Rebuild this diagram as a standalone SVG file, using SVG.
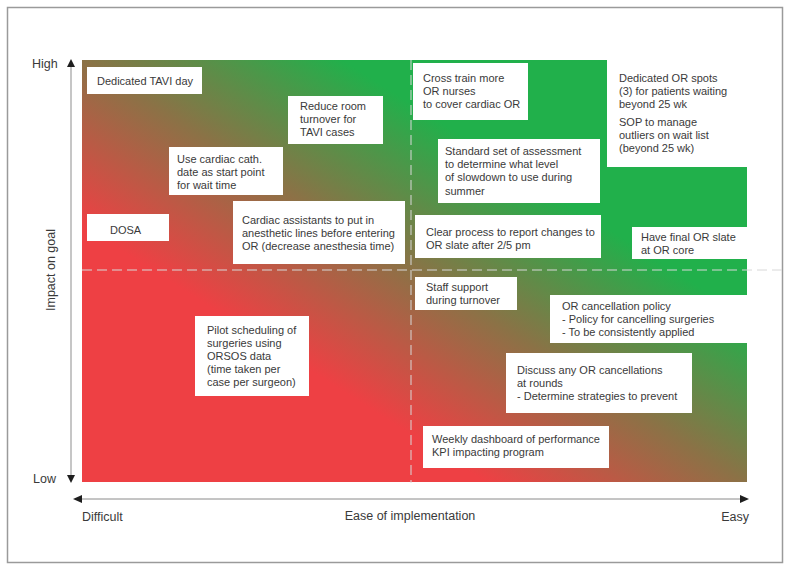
<svg xmlns="http://www.w3.org/2000/svg" width="791" height="571" viewBox="0 0 791 571">
<defs>
<linearGradient id="rg" gradientUnits="userSpaceOnUse" x1="339" y1="389" x2="489" y2="153">
<stop offset="0" stop-color="#EE4044"/>
<stop offset="0.5" stop-color="#8B7246"/>
<stop offset="1" stop-color="#21B04B"/>
</linearGradient>
<marker id="ah" viewBox="0 0 10 10" refX="10" refY="5" markerWidth="9" markerHeight="9" markerUnits="userSpaceOnUse" orient="auto">
<path d="M0,0 L10,5 L0,10 Z" fill="#1e1e1e"/>
</marker>
</defs>
<style>
text{font-family:"Liberation Sans",Arial,sans-serif;fill:#3a3a3a}
.t{font-size:11px}
.l{font-size:12.5px}
.box{fill:#ffffff}
.dash{stroke:#d8d8d8;stroke-width:1;stroke-dasharray:10 5;fill:none}
</style>
<rect x="0" y="0" width="791" height="571" fill="#ffffff"/>
<rect x="7.5" y="7.5" width="775" height="555" fill="none" stroke="#9a9a9a" stroke-width="1.5"/>
<path d="M82,60 H607 V167 H747 V482 H82 Z" fill="url(#rg)"/>
<g id="connectors">
<line x1="71" y1="475" x2="71" y2="67" stroke="#c6c6c6" stroke-width="2"/>
<path d="M67,67 L71,59 L75,67 Z" fill="#1e1e1e"/>
<path d="M67,475 L71,483 L75,475 Z" fill="#1e1e1e"/>
<line x1="82" y1="499" x2="740" y2="499" stroke="#8a8a8a" stroke-width="1"/>
<path d="M82,495 L73,499 L82,503 Z" fill="#1e1e1e"/>
<path d="M740,495 L749,499 L740,503 Z" fill="#1e1e1e"/>
<line class="dash" x1="82" y1="270" x2="783" y2="270"/>
<line class="dash" x1="411" y1="60" x2="411" y2="483"/>
</g>
<g id="labels">
<text class="l" x="32" y="68">High</text>
<text class="l" x="33" y="483">Low</text>
<text class="l" x="82" y="521">Difficult</text>
<text class="l" x="749" y="521" text-anchor="end">Easy</text>
<text class="l" x="410" y="520" text-anchor="middle">Ease of implementation</text>
<text class="l" x="0" y="0" text-anchor="middle" transform="translate(55,270) rotate(-90)">Impact on goal</text>
</g>
<g id="n-tavi-day"><rect class="box" x="87" y="67" width="115" height="27"/><text class="t" x="97" y="85">Dedicated TAVI day</text></g>
<g id="n-reduce-room"><rect class="box" x="288" y="96" width="95" height="48"/><text class="t" x="300" y="110">Reduce room</text><text class="t" x="300" y="123">turnover for</text><text class="t" x="300" y="136">TAVI cases</text></g>
<g id="n-cardiac-cath"><rect class="box" x="169" y="147" width="114" height="48"/><text class="t" x="177" y="163">Use cardiac cath.</text><text class="t" x="177" y="176">date as start point</text><text class="t" x="177" y="189">for wait time</text></g>
<g id="n-dosa"><rect class="box" x="87" y="214" width="82" height="27"/><text class="t" x="110" y="234">DOSA</text></g>
<g id="n-cardiac-assistants"><rect class="box" x="233" y="201" width="172" height="63"/><text class="t" x="242" y="224">Cardiac assistants to put in</text><text class="t" x="242" y="237">anesthetic lines before entering</text><text class="t" x="242" y="250">OR (decrease anesthesia time)</text></g>
<g id="n-cross-train"><rect class="box" x="413" y="63" width="115" height="57"/><text class="t" x="423" y="82">Cross train more</text><text class="t" x="423" y="95">OR nurses</text><text class="t" x="423" y="108">to cover cardiac OR</text></g>
<g id="n-dedicated-or"><text class="t" x="619" y="82">Dedicated OR spots</text><text class="t" x="619" y="95">(3) for patients waiting</text><text class="t" x="619" y="108">beyond 25 wk</text><text class="t" x="619" y="126">SOP to manage</text><text class="t" x="619" y="139">outliers on wait list</text><text class="t" x="619" y="152">(beyond 25 wk)</text></g>
<g id="n-standard-set"><rect class="box" x="438" y="139" width="162" height="64"/><text class="t" x="445" y="155">Standard set of assessment</text><text class="t" x="445" y="168">to determine what level</text><text class="t" x="445" y="181">of slowdown to use during</text><text class="t" x="445" y="195">summer</text></g>
<g id="n-clear-process"><rect class="box" x="415" y="215" width="186" height="43"/><text class="t" x="426" y="236">Clear process to report changes to</text><text class="t" x="426" y="249">OR slate after 2/5 pm</text></g>
<g id="n-final-slate"><rect class="box" x="632" y="227" width="115" height="32"/><text class="t" x="641" y="241">Have final OR slate</text><text class="t" x="641" y="254">at OR core</text></g>
<g id="n-staff-support"><rect class="box" x="415" y="277" width="102" height="33"/><text class="t" x="426" y="291">Staff support</text><text class="t" x="426" y="304">during turnover</text></g>
<g id="n-cancellation-policy"><rect class="box" x="550" y="295" width="197" height="48"/><text class="t" x="562" y="310">OR cancellation policy</text><text class="t" x="562" y="323">- Policy for cancelling surgeries</text><text class="t" x="562" y="336">- To be consistently applied</text></g>
<g id="n-discuss"><rect class="box" x="506" y="353" width="186" height="60"/><text class="t" x="517" y="374">Discuss any OR cancellations</text><text class="t" x="517" y="387">at rounds</text><text class="t" x="517" y="400">- Determine strategies to prevent</text></g>
<g id="n-pilot"><rect class="box" x="195" y="316" width="114" height="80"/><text class="t" x="207" y="334">Pilot scheduling of</text><text class="t" x="207" y="347">surgeries using</text><text class="t" x="207" y="360">ORSOS data</text><text class="t" x="207" y="373">(time taken per</text><text class="t" x="207" y="386">case per surgeon)</text></g>
<g id="n-weekly"><rect class="box" x="423" y="426" width="186" height="42"/><text class="t" x="432" y="443">Weekly dashboard of performance</text><text class="t" x="432" y="456">KPI impacting program</text></g>
</svg>
